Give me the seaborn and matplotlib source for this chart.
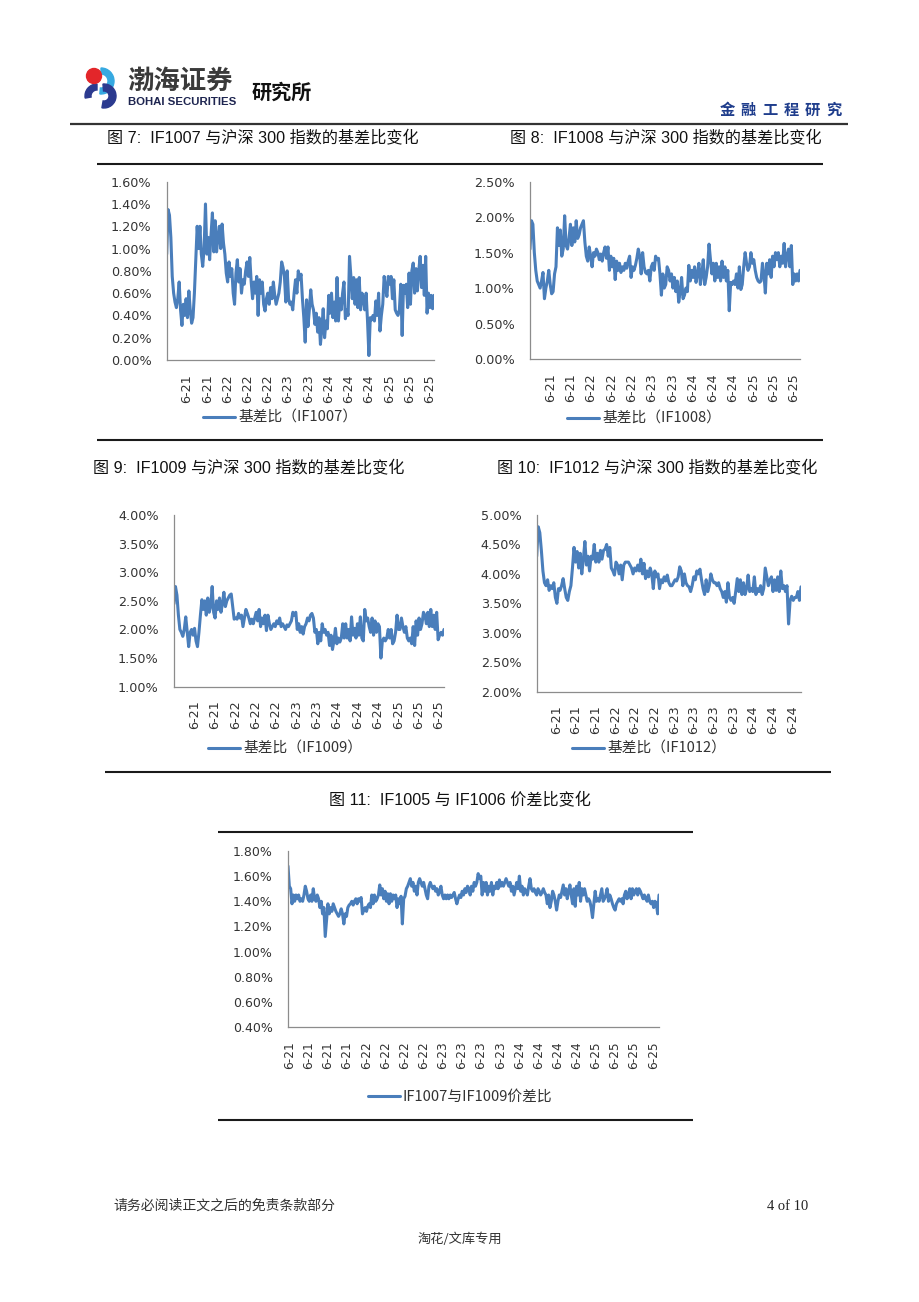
import numpy as np
import matplotlib
matplotlib.use("Agg")
import matplotlib.pyplot as plt
from matplotlib.ticker import FuncFormatter
from matplotlib.patches import Wedge, Circle
import seaborn as sns

# ---------------- data ----------------
if1007 = [0.95, 1.35, 1.30, 1.10, 0.75, 0.60, 0.52, 0.47, 0.55, 0.70, 0.45, 0.31, 0.50, 0.40, 0.55, 0.38,
          0.62, 0.45, 0.33, 0.38, 0.60, 0.90, 1.20, 1.00, 1.20, 0.95, 0.84, 1.00, 1.40, 0.95, 1.10, 0.90,
          1.12, 1.32, 0.97, 1.25, 0.97, 1.10, 1.20, 1.00, 1.22, 1.05, 0.95, 0.78, 0.70, 0.88, 0.75, 0.82,
          0.60, 0.50, 0.78, 0.90, 0.70, 0.82, 0.60, 0.72, 0.68, 0.80, 0.88, 0.75, 0.92, 0.70, 0.55, 0.70,
          0.60, 0.75, 0.40, 0.72, 0.60, 0.70, 0.50, 0.44, 0.55, 0.60, 0.50, 0.65, 0.55, 0.70, 0.58, 0.50,
          0.55, 0.60, 0.70, 0.88, 0.83, 0.75, 0.52, 0.80, 0.55, 0.50, 0.52, 0.45, 0.60, 0.72, 0.60, 0.80,
          0.72, 0.77, 0.55, 0.38, 0.16, 0.54, 0.30, 0.45, 0.63, 0.50, 0.45, 0.32, 0.42, 0.25, 0.38, 0.14,
          0.28, 0.46, 0.20, 0.35, 0.28, 0.58, 0.42, 0.60, 0.38, 0.52, 0.35, 0.74, 0.35, 0.55, 0.45, 0.60,
          0.70, 0.37, 0.45, 0.40, 0.93, 0.75, 0.55, 0.74, 0.50, 0.72, 0.47, 0.74, 0.45, 0.60, 0.55, 0.45,
          0.60, 0.35, 0.04, 0.38, 0.36, 0.40, 0.35, 0.53, 0.40, 0.60, 0.26, 0.40, 0.50, 0.75, 0.65, 0.57,
          0.75, 0.68, 0.75, 0.55, 0.72, 0.45, 0.42, 0.40, 0.45, 0.68, 0.22, 0.67, 0.60, 0.68, 0.47, 0.78,
          0.50, 0.80, 0.87, 0.60, 0.82, 0.62, 0.80, 0.93, 0.65, 0.85, 0.58, 0.93, 0.42, 0.60, 0.47, 0.58,
          0.46, 0.58]

if1008 = [1.55, 1.95, 1.90, 1.50, 1.25, 1.10, 1.05, 1.00, 1.10, 1.22, 0.85, 1.00, 1.10, 1.25, 1.05, 0.92,
          0.95, 1.20, 1.30, 1.85, 1.60, 1.82, 1.45, 1.55, 2.02, 1.60, 1.55, 1.70, 1.90, 1.60, 1.85, 1.65,
          1.95, 1.70, 1.75, 1.85, 1.90, 1.95, 1.65, 1.45, 1.38, 1.58, 1.45, 1.30, 1.50, 1.45, 1.55, 1.50,
          1.40, 1.48, 1.38, 1.50, 1.58, 1.42, 1.58, 1.25, 1.45, 1.30, 1.42, 1.12, 1.38, 1.25, 1.35, 1.22,
          1.30, 1.25, 1.35, 1.28, 1.38, 1.45, 1.15, 1.30, 1.25, 1.32, 1.42, 1.55, 1.45, 1.20, 1.50, 1.30,
          1.22, 1.20, 1.25, 1.10, 1.30, 1.35, 1.25, 1.45, 1.40, 1.42, 1.20, 0.90, 1.20, 1.00, 1.05, 1.30,
          1.25, 1.10, 1.20, 1.00, 1.15, 0.95, 1.10, 0.80, 0.95, 1.15, 0.85, 0.90, 1.00, 0.95, 1.32, 1.10,
          1.25, 1.15, 1.30, 1.08, 1.20, 1.35, 1.05, 1.20, 1.40, 1.05, 1.15, 1.30, 1.62, 1.40, 1.20, 1.35,
          1.10, 1.35, 1.15, 1.30, 1.10, 1.38, 1.15, 1.30, 1.10, 1.25, 0.68, 1.08, 1.05, 1.10, 1.05, 1.20,
          1.00, 1.30, 0.98, 1.05, 1.30, 1.50, 1.35, 1.25, 1.30, 1.50, 1.35, 1.40, 1.25, 1.15, 1.10, 1.08,
          1.10, 1.35, 1.20, 0.93, 1.35, 1.20, 1.40, 1.15, 1.45, 1.30, 1.50, 1.40, 1.50, 1.30, 1.45, 1.35,
          1.63, 1.30, 1.45, 1.55, 1.30, 1.60, 1.05, 1.20, 1.10, 1.20, 1.10, 1.25]

if1009 = [2.45, 2.75, 2.60, 2.25, 2.00, 1.95, 1.88, 2.00, 2.22, 1.95, 1.70, 1.95, 2.00, 1.90, 2.02, 1.80,
          1.70, 1.95, 2.25, 2.52, 2.35, 2.50, 2.25, 2.55, 2.30, 2.40, 2.75, 2.30, 2.20, 2.50, 2.35, 2.55,
          2.30, 2.45, 2.65, 2.40, 2.50, 2.55, 2.60, 2.62, 2.40, 2.18, 2.20, 2.18, 2.28, 2.20, 2.25, 2.05,
          2.20, 2.35, 2.28, 2.20, 2.10, 2.18, 2.10, 2.20, 2.30, 2.15, 2.35, 2.05, 2.20, 2.10, 2.25, 1.98,
          2.25, 2.10, 2.00, 2.05, 2.10, 2.05, 2.15, 2.10, 2.20, 2.05, 2.10, 2.05, 2.00, 2.08, 2.05, 2.10,
          2.15, 2.30, 2.25, 2.30, 2.00, 2.10, 1.95, 2.05, 1.92, 2.05, 2.10, 2.20, 2.15, 2.25, 2.28, 2.20,
          1.95, 2.00, 1.75, 1.95, 1.80, 2.10, 1.95, 2.00, 1.90, 1.95, 1.72, 1.90, 1.65, 1.80, 2.02, 1.75,
          1.85, 1.78, 1.85, 2.10, 1.85, 2.10, 1.85, 2.00, 1.80, 2.22, 1.90, 2.02, 1.85, 2.10, 1.90, 2.22,
          1.85, 1.80, 2.35, 2.15, 2.20, 2.05, 1.95, 2.20, 1.90, 2.15, 1.95, 2.10, 2.05, 1.50, 1.80, 1.85,
          1.80, 1.85, 2.00, 1.85, 2.00, 1.75, 1.80, 1.95, 2.25, 2.00, 2.00, 2.20, 2.05, 1.95, 2.05, 1.85,
          1.80, 1.85, 1.75, 2.05, 1.72, 2.15, 1.90, 2.20, 2.00, 2.10, 2.30, 2.25, 2.10, 2.30, 2.05, 2.35,
          2.05, 2.25, 2.00, 2.30, 1.82, 1.90, 1.95, 1.90, 2.00]

if1012 = [4.30, 4.80, 4.70, 4.40, 4.05, 3.85, 3.80, 3.90, 3.72, 3.80, 3.75, 3.85, 3.60, 3.50, 3.75, 3.72,
          3.80, 3.92, 3.75, 3.60, 3.55, 3.70, 3.80, 4.10, 4.45, 4.20, 4.38, 4.10, 4.35, 4.00, 4.25, 4.55,
          4.15, 4.30, 4.05, 4.30, 4.25, 4.50, 4.20, 4.35, 4.20, 4.40, 4.25, 4.40, 4.42, 4.50, 4.30, 4.45,
          4.10, 4.05, 3.98, 4.20, 4.15, 4.00, 4.15, 3.90, 4.15, 4.20, 4.20, 4.20, 4.15, 4.10, 4.00, 4.10,
          4.05, 4.15, 4.05, 4.25, 4.00, 4.18, 3.92, 4.05, 3.95, 4.10, 4.00, 3.75, 4.05, 3.95, 4.00, 3.75,
          3.90, 3.85, 3.95, 3.88, 3.98, 3.85, 3.80, 3.80, 3.85, 3.90, 3.88, 3.95, 4.12, 4.05, 3.80, 4.00,
          3.85, 3.80, 3.78, 3.70, 3.80, 3.95, 3.90, 4.05, 4.00, 4.08, 3.90, 3.75, 3.65, 3.90, 3.70, 3.80,
          4.00, 3.90, 3.85, 3.85, 3.80, 3.85, 3.75, 3.70, 3.60, 3.70, 3.52, 3.85, 3.60, 3.55, 3.60, 3.50,
          3.70, 3.92, 3.70, 3.90, 3.65, 3.85, 3.65, 3.75, 3.98, 3.70, 3.75, 3.70, 3.95, 3.65, 3.75, 3.70,
          3.80, 3.65, 3.75, 4.10, 3.95, 3.80, 3.90, 3.95, 3.70, 3.90, 3.72, 3.95, 3.70, 4.05, 3.75, 3.80,
          3.70, 3.80, 3.15, 3.55, 3.62, 3.55, 3.60, 3.60, 3.70, 3.55, 3.78]

spread_1007_1009 = [
    1.68, 1.52, 1.50, 1.38, 1.45, 1.40, 1.45, 1.42, 1.45, 1.40, 1.42, 1.40, 1.45, 1.52, 1.48, 1.42,
    1.40, 1.45, 1.40, 1.50, 1.42, 1.40, 1.45, 1.42, 1.35, 1.40, 1.30, 1.35, 1.12, 1.25, 1.38, 1.30,
    1.35, 1.32, 1.38, 1.35, 1.32, 1.30, 1.28, 1.30, 1.34, 1.30, 1.22, 1.30, 1.28, 1.35, 1.37, 1.38,
    1.40, 1.37, 1.40, 1.42, 1.38, 1.42, 1.40, 1.43, 1.30, 1.33, 1.35, 1.32, 1.36, 1.38, 1.35, 1.45,
    1.38, 1.45, 1.40, 1.42, 1.45, 1.53, 1.45, 1.50, 1.42, 1.48, 1.40, 1.46, 1.38, 1.46, 1.40, 1.45,
    1.42, 1.45, 1.35, 1.42, 1.38, 1.44, 1.22, 1.42, 1.44, 1.50, 1.52, 1.55, 1.58, 1.52, 1.55, 1.48,
    1.52, 1.45, 1.55, 1.58, 1.55, 1.52, 1.55, 1.50, 1.45, 1.42, 1.52, 1.55, 1.52, 1.50, 1.52, 1.48,
    1.50, 1.45, 1.48, 1.52, 1.45, 1.42, 1.45, 1.42, 1.45, 1.42, 1.45, 1.43, 1.45, 1.47, 1.42, 1.38,
    1.42, 1.45, 1.43, 1.48, 1.45, 1.50, 1.47, 1.52, 1.50, 1.45, 1.52, 1.48, 1.55, 1.52, 1.55, 1.62,
    1.58, 1.60, 1.45, 1.55, 1.48, 1.55, 1.45, 1.52, 1.48, 1.55, 1.45, 1.52, 1.50, 1.55, 1.50, 1.57,
    1.52, 1.55, 1.52, 1.55, 1.58, 1.55, 1.52, 1.55, 1.48, 1.52, 1.45, 1.50, 1.55, 1.50, 1.60, 1.48,
    1.52, 1.45, 1.50, 1.48, 1.45, 1.52, 1.58, 1.50, 1.48, 1.50, 1.47, 1.45, 1.50, 1.48, 1.45, 1.47,
    1.50, 1.47, 1.45, 1.38, 1.45, 1.35, 1.40, 1.48, 1.45, 1.40, 1.33, 1.40, 1.45, 1.43, 1.48, 1.53,
    1.45, 1.50, 1.42, 1.48, 1.53, 1.45, 1.38, 1.50, 1.36, 1.52, 1.45, 1.55, 1.40, 1.50, 1.45, 1.50,
    1.45, 1.40, 1.42, 1.40, 1.35, 1.27, 1.38, 1.48, 1.40, 1.42, 1.40, 1.45, 1.50, 1.40, 1.42, 1.45,
    1.50, 1.40, 1.45, 1.42, 1.38, 1.35, 1.33, 1.38, 1.40, 1.42, 1.40, 1.42, 1.38, 1.45, 1.48, 1.42,
    1.45, 1.50, 1.42, 1.50, 1.45, 1.48, 1.50, 1.45, 1.50, 1.48, 1.45, 1.42, 1.45, 1.42, 1.40, 1.45,
    1.40, 1.38, 1.40, 1.35, 1.40, 1.38, 1.30, 1.45]

labels_5day = ["6-21"] * 3 + ["6-22"] * 3 + ["6-23"] * 2 + ["6-24"] * 3 + ["6-25"] * 3
labels_1012 = ["6-21"] * 4 + ["6-22"] * 3 + ["6-23"] * 4 + ["6-24"] * 3
labels_spread = ["6-21"] * 4 + ["6-22"] * 4 + ["6-23"] * 4 + ["6-24"] * 4 + ["6-25"] * 4

# ---------------- style ----------------
sns.set_style("white")
CJK = ["Noto Sans CJK SC", "DejaVu Sans"]
MIX = ["Liberation Sans", "Noto Sans CJK SC"]
plt.rcParams["font.family"] = ["DejaVu Sans", "Noto Sans CJK SC"]

W, H = 920, 1302
LINE = "#4A7EBB"
TXT = "#333333"
SPINE = "#8c8c8c"

fig = plt.figure(figsize=(W / 100, H / 100), dpi=100)
fig.patch.set_facecolor("white")

bg = fig.add_axes([0, 0, 1, 1], zorder=0)
bg.set_xlim(0, W)
bg.set_ylim(H, 0)
bg.axis("off")


def hline(y, x0, x1, lw=1.5, color="#1a1a1a"):
    bg.plot([x0, x1], [y, y], color=color, lw=lw, solid_capstyle="butt")


def pct(v, _):
    return f"{v:.2f}%"


def chart(box, values, yticks, labels, tick_step, label_step, label_text, legend_xy,
          label_offset=0.0, lab_size=9.2, ylab_size=9.2):
    l, t, r, b = box
    ax = fig.add_axes([l / W, 1 - b / H, (r - l) / W, (b - t) / H], zorder=2)
    ax.patch.set_alpha(0)
    x = np.arange(len(values))
    sns.lineplot(x=x, y=values, ax=ax, color=LINE, linewidth=2.2, label=label_text)
    n1 = len(values) - 1
    ax.set_xlim(0, n1)
    ax.set_ylim(yticks[0], yticks[-1])
    ax.set_yticks(yticks)
    ax.yaxis.set_major_formatter(FuncFormatter(pct))
    tpos = np.arange(0, 1 + 1e-6, tick_step) * n1
    ax.set_xticks(tpos)
    ax.set_xticklabels([""] * len(tpos))
    lpos = (label_offset + np.arange(len(labels)) * label_step) * n1
    ax.set_xticks(lpos, minor=True)
    ax.set_xticklabels(labels, minor=True, rotation=90, fontsize=lab_size, color=TXT)
    ax.tick_params(axis="x", which="major", length=4, width=0.8, color=SPINE, direction="out")
    ax.tick_params(axis="x", which="minor", length=0, pad=10)
    ax.tick_params(axis="y", length=4, width=0.8, color=SPINE, direction="out", pad=7,
                   labelsize=ylab_size, labelcolor=TXT)
    for s in ("top", "right"):
        ax.spines[s].set_visible(False)
    for s in ("left", "bottom"):
        ax.spines[s].set_color(SPINE)
        ax.spines[s].set_linewidth(0.9)
    ax.set_xlabel("")
    ax.set_ylabel("")
    lx, ly = legend_xy
    ax.legend(loc="center", bbox_to_anchor=(lx / W, 1 - ly / H), bbox_transform=fig.transFigure,
              frameon=False, handlelength=2.2, handletextpad=0.2,
              prop={"family": CJK, "size": 10.6}, labelcolor=TXT)
    return ax


# ---------------- header ----------------
bg.add_patch(Wedge((101, 81), 13, -90, 95, width=6, color="#36a9e1", zorder=1))
bg.add_patch(Wedge((104, 96), 12, -95, 100, width=7, color="#2b3a8f", zorder=1))
bg.add_patch(Wedge((97, 96), 12, 170, 270, width=6, color="#2b3a8f", zorder=1))
bg.add_patch(Circle((94, 76), 7.5, color="#e3262a", zorder=2))
bg.text(127, 81, "渤海证券", fontsize=19, family=CJK, weight="bold", color="#3a3a3a",
        va="center", ha="left")
bg.text(128, 102, "BOHAI SECURITIES", fontsize=8.2, family=["Liberation Sans"], weight="bold",
        color="#1e2550", va="center", ha="left")
bg.text(252, 92, "研究所", fontsize=14.5, family=CJK, weight="bold", color="#111111",
        va="center", ha="left")
for i, ch in enumerate("金融工程研究"):
    bg.text(727 + i * 21.4, 110, ch, fontsize=11, family=CJK, weight="bold", color="#1f3d8c",
            va="center", ha="center")
hline(124, 70, 848, lw=1.6, color="#333333")

# ---------------- titles & rules ----------------
tkw = dict(fontsize=11.6, family=MIX, color="#111111", va="center")
bg.text(107, 138, "图 7:  IF1007 与沪深 300 指数的基差比变化", ha="left", **tkw)
bg.text(510, 138, "图 8:  IF1008 与沪深 300 指数的基差比变化", ha="left", **tkw)
hline(164, 97, 823)
hline(440, 97, 823)
bg.text(93, 468, "图 9:  IF1009 与沪深 300 指数的基差比变化", ha="left", **tkw)
bg.text(497, 468, "图 10:  IF1012 与沪深 300 指数的基差比变化", ha="left", **tkw)
hline(772, 105, 831)
bg.text(460, 800, "图 11:  IF1005 与 IF1006 价差比变化", ha="center", **tkw)
hline(832, 218, 693)
hline(1120, 218, 693)

# ---------------- charts ----------------
chart((166.7, 181.7, 434, 360), if1007, np.round(np.arange(0, 1.61, 0.2), 2), labels_5day,
      1 / 12, 0.0757, "基差比（IF1007）", (280, 418))
chart((530, 181.7, 800, 359), if1008, np.round(np.arange(0, 2.51, 0.5), 2), labels_5day,
      1 / 12, 0.0752, "基差比（IF1008）", (644, 419))
chart((174, 515, 444, 686.7), if1009, np.round(np.arange(1, 4.01, 0.5), 2), labels_5day,
      1 / 12, 0.0755, "基差比（IF1009）", (285, 749))
chart((536.7, 515, 801, 691.7), if1012, np.round(np.arange(2, 5.01, 0.5), 2), labels_1012,
      84.2 / 793, 59 / 793, "基差比（IF1012）", (649, 749))
chart((288, 851, 659, 1027), spread_1007_1009, np.round(np.arange(0.4, 1.81, 0.2), 2), labels_spread,
      81.6 / 1113, 57.4 / 1113, "IF1007与IF1009价差比", (460, 1097),
      label_offset=5 / 1113, lab_size=8.7, ylab_size=9.0)

# ---------------- footer ----------------
bg.text(113, 1206, "请务必阅读正文之后的免责条款部分", fontsize=10, family=CJK, color="#333333",
        va="center", ha="left")
bg.text(808, 1206, "4 of 10", fontsize=10.5, family=["Liberation Serif"], color="#222222",
        va="center", ha="right")
bg.text(460, 1239, "淘花/文库专用", fontsize=9.5, family=CJK, color="#333333",
        va="center", ha="center")

fig.savefig("out.png", dpi=100, facecolor="white")
